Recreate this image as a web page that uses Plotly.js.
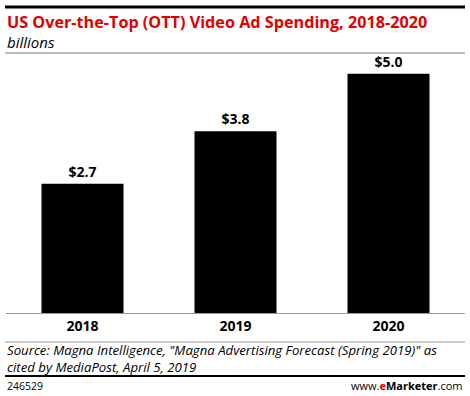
<!DOCTYPE html>
<html><head><meta charset="utf-8">
<script src="https://cdn.plot.ly/plotly-3.0.1.min.js"></script>
<style>html,body{margin:0;padding:0;background:#fff;}#chart{width:470px;height:396px;}</style>
</head><body><div id="chart"></div>
<script>
const years = ['2018', '2019', '2020'];
const spending = [2.7, 3.8, 5.0];

const W = 470, H = 396;
const mT = 58, mB = 83, mL = 6, mR = 5;
const plotH = H - mT - mB;
const plotW = W - mL - mR;
function py(p) { return (H - mB - p) / plotH; }
function px(p) { return (p - mL) / plotW; }
const FONT = '"Open Sans", Arial, sans-serif';

const trace = {
  type: 'bar', x: years, y: spending,
  marker: {color: '#000000', line: {width: 0}},
  texttemplate: '$%{y:.1f}', textposition: 'outside',
  textfont: {family: FONT, size: 14, color: '#000', weight: 'bold'},
  cliponaxis: false, hoverinfo: 'none'
};

const layout = {
  width: W, height: H,
  margin: {t: mT, b: mB, l: mL, r: mR},
  paper_bgcolor: '#fff', plot_bgcolor: '#fff',
  showlegend: false, bargap: 0.464,
  xaxis: {
    type: 'category', showgrid: false, zeroline: false,
    showline: true, linecolor: '#999', linewidth: 1,
    ticks: '', tickfont: {family: FONT, size: 14, color: '#000', weight: 'bold'}
  },
  yaxis: {range: [0, 5.33], visible: false, showgrid: false, zeroline: false},
  shapes: [
    {type: 'line', xref: 'paper', yref: 'paper', x0: px(5), x1: px(465), y0: py(7), y1: py(7), line: {color: '#000', width: 3}},
    {type: 'line', xref: 'paper', yref: 'paper', x0: px(5), x1: px(465), y0: py(53), y1: py(53), line: {color: '#777', width: 1}},
    {type: 'line', xref: 'paper', yref: 'paper', x0: px(5), x1: px(465), y0: py(342), y1: py(342), line: {color: '#999', width: 1}},
    {type: 'line', xref: 'paper', yref: 'paper', x0: px(5), x1: px(465), y0: py(376), y1: py(376), line: {color: '#000', width: 2}}
  ],
  annotations: [
    {xref: 'paper', yref: 'paper', x: px(5), y: py(31.5), xanchor: 'left', yanchor: 'middle', showarrow: false, align: 'left',
     text: '<span style="font-size:16.2px;font-weight:bold;color:#e00000">US Over-the-Top (OTT) Video Ad Spending, 2018-2020</span><br><i>billions</i>',
     font: {family: FONT, size: 15, color: '#000'}},
    {xref: 'paper', yref: 'paper', x: px(5), y: py(358), xanchor: 'left', yanchor: 'middle', showarrow: false, align: 'left',
     text: '<i>Source: Magna Intelligence, "Magna Advertising Forecast (Spring 2019)" as<br>cited by MediaPost, April 5, 2019</i>', font: {family: FONT, size: 13.2, color: '#000'}},
    {xref: 'paper', yref: 'paper', x: px(5), y: py(386), xanchor: 'left', yanchor: 'middle', showarrow: false,
     text: '246529', font: {family: FONT, size: 10.5, color: '#000'}},
    {xref: 'paper', yref: 'paper', x: px(465), y: py(386), xanchor: 'right', yanchor: 'middle', showarrow: false,
     text: 'www.<b><span style="color:#e00000">e</span>Marketer</b>.com', font: {family: FONT, size: 11, color: '#000'}}
  ]
};

Plotly.newPlot('chart', [trace], layout, {displayModeBar: false, staticPlot: true});
</script></body></html>
